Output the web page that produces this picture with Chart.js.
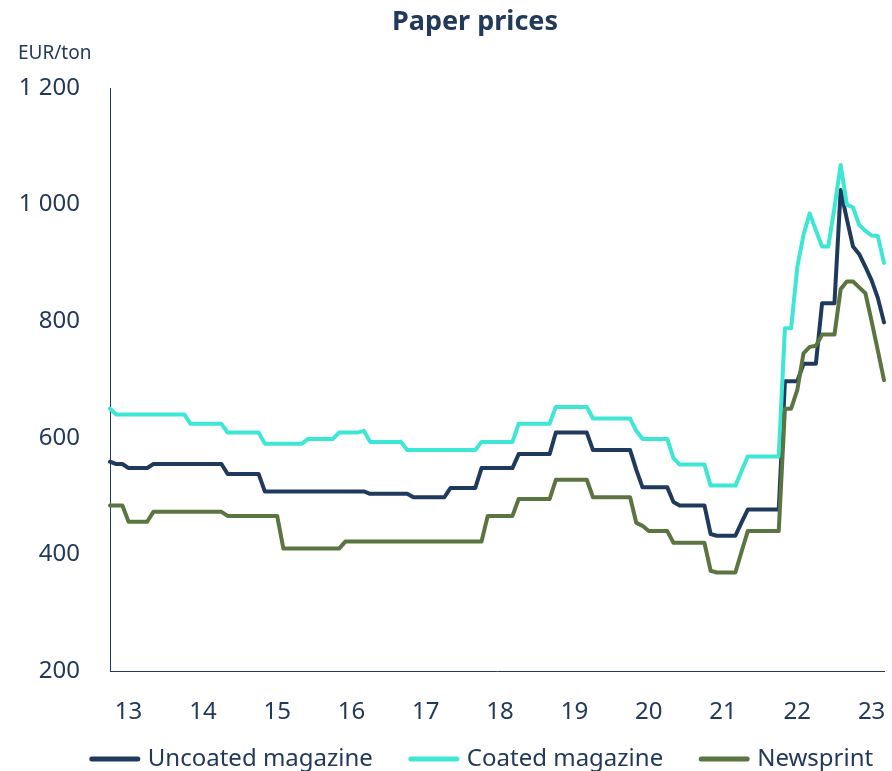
<!DOCTYPE html>
<html>
<head>
<meta charset="utf-8">
<script src="https://cdn.jsdelivr.net/npm/chart.js@4.4.0/dist/chart.umd.min.js"></script>
<style>
    html, body { margin: 0; padding: 0; background: #fff; }
    #wrap { width: 892px; height: 771px; position: relative; }
</style>
</head>
<body>
<div id="wrap"><canvas id="paper-chart"></canvas></div>
<script>
// monthly prices, EUR/ton, first point = Oct 2012
const uncoated = [
    559, 555, 555, 548, 548, 548, 548, 555, 555, 555, 555, 555,
    555, 555, 555, 555, 555, 555, 555, 538, 538, 538, 538, 538,
    538, 508, 508, 508, 508, 508, 508, 508, 508, 508, 508, 508,
    508, 508, 508, 508, 508, 508, 504, 504, 504, 504, 504, 504,
    504, 498, 498, 498, 498, 498, 498, 514, 514, 514, 514, 514,
    548, 548, 548, 548, 548, 548, 572, 572, 572, 572, 572, 572,
    609, 609, 609, 609, 609, 609, 579, 579, 579, 579, 579, 579,
    579, 545, 515, 515, 515, 515, 515, 490, 484, 484, 484, 484,
    484, 435, 432, 432, 432, 432, 455, 477, 477, 477, 477, 477,
    477, 697, 697, 697, 727, 727, 727, 831, 831, 831, 1025, 975,
    928, 915, 893, 870, 840, 798
]
const coated = [
    650, 640, 640, 640, 640, 640, 640, 640, 640, 640, 640, 640,
    640, 624, 624, 624, 624, 624, 624, 609, 609, 609, 609, 609,
    609, 590, 590, 590, 590, 590, 590, 590, 598, 598, 598, 598,
    598, 609, 609, 609, 609, 612, 593, 593, 593, 593, 593, 593,
    579, 579, 579, 579, 579, 579, 579, 579, 579, 579, 579, 579,
    593, 593, 593, 593, 593, 593, 624, 624, 624, 624, 624, 624,
    653, 653, 653, 653, 653, 653, 633, 633, 633, 633, 633, 633,
    633, 612, 598, 598, 598, 598, 598, 565, 554, 554, 554, 554,
    554, 518, 518, 518, 518, 518, 543, 568, 568, 568, 568, 568,
    568, 788, 788, 893, 948, 985, 956, 928, 928, 995, 1068, 1000,
    995, 965, 955, 947, 946, 900
]
const newsprint = [
    484, 484, 484, 456, 456, 456, 456, 473, 473, 473, 473, 473,
    473, 473, 473, 473, 473, 473, 473, 466, 466, 466, 466, 466,
    466, 466, 466, 466, 410, 410, 410, 410, 410, 410, 410, 410,
    410, 410, 422, 422, 422, 422, 422, 422, 422, 422, 422, 422,
    422, 422, 422, 422, 422, 422, 422, 422, 422, 422, 422, 422,
    422, 466, 466, 466, 466, 466, 495, 495, 495, 495, 495, 495,
    528, 528, 528, 528, 528, 528, 498, 498, 498, 498, 498, 498,
    498, 454, 449, 440, 440, 440, 440, 420, 420, 420, 420, 420,
    420, 372, 369, 369, 369, 369, 405, 440, 440, 440, 440, 440,
    440, 650, 650, 682, 745, 756, 758, 777, 777, 777, 855, 868,
    868, 858, 848, 800, 750, 699
]

const series_names = ['Uncoated magazine', 'Coated magazine', 'Newsprint']
const series_colors = ['#1f3a5c', '#3ee6d4', '#5b7541']
const text_color = '#22395a'
const font_family = '"Noto Sans", "DejaVu Sans", sans-serif'

// month categories, Oct 2012 onwards
const first_year = 2012
const first_month = 10
let months = []
for (let i = 0; i < uncoated.length; i++) {
    let m = first_month - 1 + i
    months.push((first_year + Math.floor(m / 12)) + '-' + String(m % 12 + 1).padStart(2, '0'))
}

function year_tick(index) {
    let lbl = months[index]
    if (lbl && lbl.endsWith('-01')) {
        return lbl.slice(2, 4)
    }
    return ''
}

function thousands(v) {
    if (v >= 1000) {
        return Math.floor(v / 1000) + ' ' + String(v % 1000).padStart(3, '0')
    }
    return String(v)
}

// title, unit and legend drawn by hand
const texts_plugin = {
    id: 'texts',
    afterDraw(chart) {
        let c = chart.ctx
        c.save()
        c.fillStyle = text_color
        c.textBaseline = 'middle'

        c.font = 'bold 27px ' + font_family
        c.textAlign = 'center'
        c.fillText('Paper prices', 475, 22)

        c.font = '19px ' + font_family
        c.textAlign = 'left'
        c.fillText('EUR/ton', 18, 54)

        c.font = '24px ' + font_family
        const line_len = 52
        const gap = 7
        const item_gap = 35
        const y = 759
        let widths = chart.data.datasets.map(d => line_len + gap + c.measureText(d.label).width)
        let total = widths.reduce((a, b) => a + b, 0) + item_gap * (widths.length - 1)
        let x = 481 - total / 2
        chart.data.datasets.forEach((d, i) => {
            c.strokeStyle = d.borderColor
            c.lineWidth = 5
            c.lineCap = 'round'
            c.beginPath()
            c.moveTo(x + 3, y)
            c.lineTo(x + line_len - 3, y)
            c.stroke()
            c.fillText(d.label, x + line_len + gap, y)
            x += widths[i] + item_gap
        })
        c.restore()
    }
}

function make_dataset(i, values) {
    return {
        label: series_names[i],
        data: values,
        borderColor: series_colors[i],
        backgroundColor: series_colors[i],
        borderWidth: 4,
        pointRadius: 0,
        tension: 0,
        borderJoinStyle: 'round',
        borderCapStyle: 'round',
        order: 2 - i
    }
}

let ctx = document.getElementById('paper-chart')

let my_chart = new Chart(ctx, {
    type: 'line',
    data: {
        labels: months,
        datasets: [
            make_dataset(0, uncoated),
            make_dataset(1, coated),
            make_dataset(2, newsprint)
        ]
    },
    options: {
        responsive: true,
        maintainAspectRatio: false,
        animation: false,
        layout: {
            padding: { top: 88, right: 8, bottom: 0, left: 0 }
        },
        plugins: {
            legend: { display: false },
            title: { display: false },
            tooltip: { enabled: false }
        },
        scales: {
            x: {
                grid: { display: false, drawTicks: false },
                border: { display: true, color: text_color, width: 1 },
                ticks: {
                    autoSkip: false,
                    maxRotation: 0,
                    padding: 27,
                    color: text_color,
                    font: { size: 24, family: font_family },
                    callback: (value, index) => year_tick(index)
                },
                afterFit: (scale) => {
                    scale.height = 100
                    scale.paddingRight = 0
                }
            },
            y: {
                min: 200,
                max: 1200,
                grid: { display: false, drawTicks: false },
                border: { display: true, color: text_color, width: 1 },
                ticks: {
                    stepSize: 200,
                    padding: 30,
                    color: text_color,
                    font: { size: 24, family: font_family },
                    callback: (value) => thousands(value)
                },
                afterFit: (scale) => { scale.width = 110 }
            }
        }
    },
    plugins: [texts_plugin]
})
</script>
</body>
</html>
